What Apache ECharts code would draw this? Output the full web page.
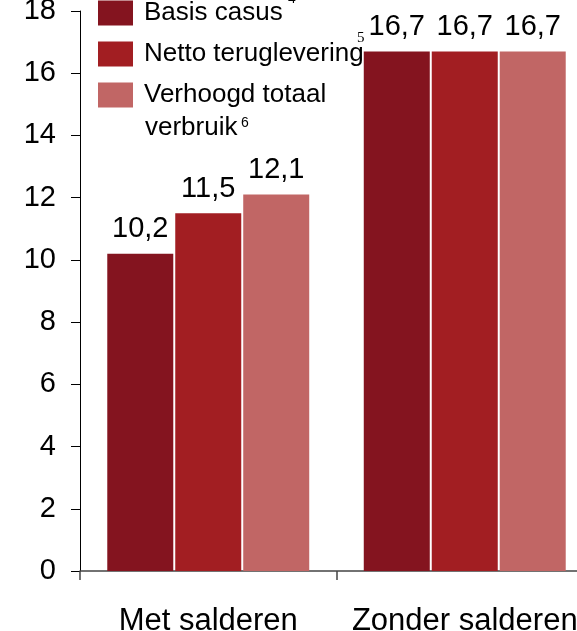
<!DOCTYPE html>
<html>
<head>
<meta charset="utf-8">
<script src="https://cdn.jsdelivr.net/npm/echarts@6/dist/echarts.min.js"></script>
<style>
  html, body { margin: 0; padding: 0; background: #fff; }
  #chart { width: 577px; height: 631px; }
</style>
</head>
<body>
<div id="chart"></div>
<script>
var categories = ['Met salderen', 'Zonder salderen'];
var seriesNames = ['Basis casus', 'Netto teruglevering', 'Verhoogd totaal verbruik'];
var basisCasus = [10.2, 16.7];
var nettoTeruglevering = [11.5, 16.7];
var verhoogdVerbruik = [12.1, 16.7];
var colors = ['#84141F', '#A21E22', '#C16665'];

var chart = echarts.init(document.getElementById('chart'));
var font = 'Liberation Sans, Arial, sans-serif';

function bar(name, data, color) {
    return {
        name: name,
        type: 'bar',
        data: data,
        barWidth: 66,
        barGap: '3%',
        itemStyle: { color: color },
        label: {
            show: true,
            position: 'top',
            distance: 10,
            fontFamily: font,
            fontSize: 29,
            color: '#000',
            formatter: function (p) { return p.value.toFixed(1).replace('.', ','); }
        }
    };
}

var option = {
    animation: false,
    backgroundColor: '#fff',
    grid: { left: 80, top: 11, width: 513, height: 560, outerBoundsMode: 'none' },
    legend: {
        orient: 'vertical',
        left: 98,
        top: 0,
        padding: 0,
        itemWidth: 35,
        itemHeight: 25,
        itemGap: 15,
        icon: 'rect',
        data: seriesNames,
        formatter: function (name) {
            return name === seriesNames[2] ? 'Verhoogd totaal' : name;
        },
        textStyle: {
            fontFamily: font,
            fontSize: 26,
            color: '#000',
            padding: [3, 0, 0, 6]
        }
    },
    xAxis: {
        type: 'category',
        data: categories,
        axisLine: { lineStyle: { color: '#444', width: 1.5 } },
        axisTick: { show: true, length: 9, lineStyle: { color: '#444', width: 1.5 } },
        axisLabel: { fontFamily: font, fontSize: 31, color: '#000', margin: 35, interval: 0, hideOverlap: false }
    },
    yAxis: {
        type: 'value',
        min: 0,
        max: 18,
        interval: 2,
        splitLine: { show: false },
        axisLine: { show: true, lineStyle: { color: '#000', width: 1 } },
        axisTick: { show: true, length: 9, lineStyle: { color: '#000' } },
        axisLabel: { fontFamily: font, fontSize: 29, color: '#000', margin: 24 }
    },
    graphic: [
        { type: 'text', left: 145, top: 115, style: { text: 'verbruik', font: '26px ' + font, fill: '#000' } },
        { type: 'text', left: 288, top: -8, style: { text: '4', font: '14px ' + font, fill: '#000' } },
        { type: 'text', left: 357, top: 31, style: { text: '5', font: '15px Liberation Serif, serif', fill: '#000' } },
        { type: 'text', left: 241, top: 116, style: { text: '6', font: '14px ' + font, fill: '#000' } }
    ],
    series: [
        bar(seriesNames[0], basisCasus, colors[0]),
        bar(seriesNames[1], nettoTeruglevering, colors[1]),
        bar(seriesNames[2], verhoogdVerbruik, colors[2])
    ]
};

chart.setOption(option);
</script>
</body>
</html>
